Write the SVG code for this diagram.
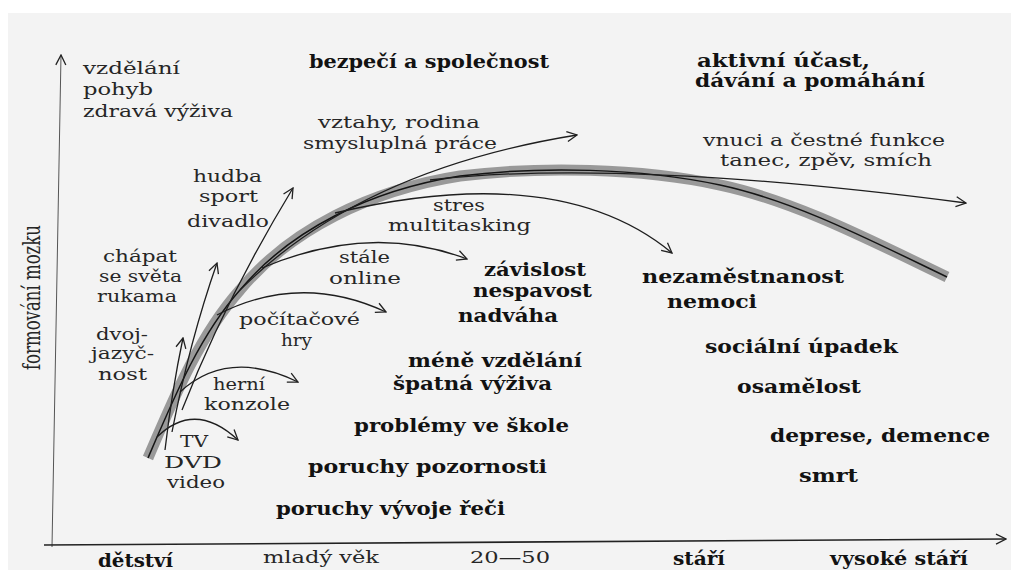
<svg xmlns="http://www.w3.org/2000/svg" width="1011" height="570" viewBox="0 0 1011 570">
<style>
text{font-family:"DejaVu Serif","Liberation Serif",serif;fill:#1e1e1e}
.r{font-size:17px;font-weight:normal;fill:#262626}
.b{font-size:18px;font-weight:bold;fill:#121212}
.ln{fill:none;stroke:#1e1e1e;stroke-width:1.3}
</style>
<defs>
<marker id="ah" viewBox="0 0 12 12" markerWidth="12" markerHeight="12" refX="11" refY="6" orient="auto" markerUnits="userSpaceOnUse">
<path d="M1,1 L11,6 L1,11" fill="none" stroke="#222" stroke-width="1.3"/>
</marker>
</defs>
<rect x="0" y="0" width="1011" height="570" fill="#ffffff"/>
<rect x="8" y="13" width="1003" height="557" fill="#f3f3f3"/>

<g id="axes">
<line x1="52" y1="547" x2="61" y2="55" stroke="#555" stroke-width="1" marker-end="url(#ah)"/>
<line x1="44" y1="545" x2="1006" y2="539" stroke="#222" stroke-width="1.6" marker-end="url(#ah)"/>
<text class="r" transform="translate(40 370) scale(1.4 1) rotate(-90)" textLength="145" lengthAdjust="spacingAndGlyphs" font-size="16">formování mozku</text>
</g>

<g id="main-curve">
<path d="M148,458 C175,395 200,335 240,290 C290,230 370,190 460,176 C540,166 640,168 720,185 C795,201 870,240 947,277" fill="none" stroke="#999" stroke-width="11" stroke-linecap="butt"/>
<path d="M148,458 C175,395 200,335 240,290 C290,230 370,190 460,176 C540,166 640,168 720,185 C795,201 870,240 947,277" fill="none" stroke="#151515" stroke-width="1.5"/>
</g>

<g id="connectors">
<path class="ln" d="M157,437 Q195,400 238,440" marker-end="url(#ah)"/>
<path class="ln" d="M180,392 Q228,348 298,382" marker-end="url(#ah)"/>
<path class="ln" d="M217,315 Q300,272 386,312" marker-end="url(#ah)"/>
<path class="ln" d="M262,268 Q370,222 467,259" marker-end="url(#ah)"/>
<path class="ln" d="M335,213 Q560,160 672,253" marker-end="url(#ah)"/>
<path class="ln" d="M240,290 Q360,170 577,135" marker-end="url(#ah)"/>
<path class="ln" d="M430,180 Q620,158 966,203" marker-end="url(#ah)"/>
<path class="ln" d="M182,410 Q225,300 293,188" marker-end="url(#ah)"/>
<path class="ln" d="M172,432 Q190,340 217,263" marker-end="url(#ah)"/>
<path class="ln" d="M165,450 Q172,390 183,338" marker-end="url(#ah)"/>
</g>

<g id="n-vzdelani">
<text class="r" x="83" y="74" textLength="97" lengthAdjust="spacingAndGlyphs">vzdělání</text>
<text class="r" x="83" y="95" textLength="70" lengthAdjust="spacingAndGlyphs">pohyb</text>
<text class="r" x="83" y="117" textLength="150" lengthAdjust="spacingAndGlyphs">zdravá výživa</text>
</g>
<g id="n-bezpeci">
<text class="b" x="309" y="68" textLength="240" lengthAdjust="spacingAndGlyphs">bezpečí a společnost</text>
</g>
<g id="n-aktivni">
<text class="b" x="697" y="67" textLength="173" lengthAdjust="spacingAndGlyphs">aktivní účast,</text>
<text class="b" x="695" y="87" textLength="230" lengthAdjust="spacingAndGlyphs">dávání a pomáhání</text>
</g>
<g id="n-vztahy">
<text class="r" x="318" y="128" textLength="162" lengthAdjust="spacingAndGlyphs">vztahy, rodina</text>
<text class="r" x="303" y="149" textLength="194" lengthAdjust="spacingAndGlyphs">smysluplná práce</text>
</g>
<g id="n-vnuci">
<text class="r" x="703" y="146" textLength="242" lengthAdjust="spacingAndGlyphs">vnuci a čestné funkce</text>
<text class="r" x="720" y="166" textLength="212" lengthAdjust="spacingAndGlyphs">tanec, zpěv, smích</text>
</g>
<g id="n-hudba">
<text class="r" x="193" y="182" textLength="69" lengthAdjust="spacingAndGlyphs">hudba</text>
<text class="r" x="199" y="202" textLength="59" lengthAdjust="spacingAndGlyphs">sport</text>
<text class="r" x="187" y="227" textLength="82" lengthAdjust="spacingAndGlyphs">divadlo</text>
</g>
<g id="n-stres">
<text class="r" x="433" y="211" textLength="52" lengthAdjust="spacingAndGlyphs">stres</text>
<text class="r" x="388" y="231" textLength="143" lengthAdjust="spacingAndGlyphs">multitasking</text>
</g>
<g id="n-chapat">
<text class="r" x="103" y="262" textLength="74" lengthAdjust="spacingAndGlyphs">chápat</text>
<text class="r" x="99" y="282" textLength="83" lengthAdjust="spacingAndGlyphs">se světa</text>
<text class="r" x="97" y="302" textLength="80" lengthAdjust="spacingAndGlyphs">rukama</text>
</g>
<g id="n-stale">
<text class="r" x="339" y="263" textLength="51" lengthAdjust="spacingAndGlyphs">stále</text>
<text class="r" x="329" y="284" textLength="72" lengthAdjust="spacingAndGlyphs">online</text>
</g>
<g id="n-zavislost">
<text class="b" x="484" y="276" textLength="102" lengthAdjust="spacingAndGlyphs">závislost</text>
<text class="b" x="473" y="297" textLength="119" lengthAdjust="spacingAndGlyphs">nespavost</text>
<text class="b" x="458" y="322" textLength="100" lengthAdjust="spacingAndGlyphs">nadváha</text>
</g>
<g id="n-nezamestnanost">
<text class="b" x="642" y="283" textLength="202" lengthAdjust="spacingAndGlyphs">nezaměstnanost</text>
<text class="b" x="667" y="308" textLength="90" lengthAdjust="spacingAndGlyphs">nemoci</text>
</g>
<g id="n-pocitacove">
<text class="r" x="239" y="325" textLength="121" lengthAdjust="spacingAndGlyphs">počítačové</text>
<text class="r" x="281" y="346" textLength="31" lengthAdjust="spacingAndGlyphs">hry</text>
</g>
<g id="n-dvoj">
<text class="r" x="96" y="340" textLength="52" lengthAdjust="spacingAndGlyphs">dvoj-</text>
<text class="r" x="91" y="359" textLength="63" lengthAdjust="spacingAndGlyphs">jazyč-</text>
<text class="r" x="98" y="380" textLength="49" lengthAdjust="spacingAndGlyphs">nost</text>
</g>
<g id="n-herni">
<text class="r" x="213" y="390" textLength="52" lengthAdjust="spacingAndGlyphs">herní</text>
<text class="r" x="204" y="410" textLength="86" lengthAdjust="spacingAndGlyphs">konzole</text>
</g>
<g id="n-tv">
<text class="r" x="180" y="447" textLength="28" lengthAdjust="spacingAndGlyphs">TV</text>
<text class="r" x="164" y="468" textLength="58" lengthAdjust="spacingAndGlyphs">DVD</text>
<text class="r" x="167" y="488" textLength="58" lengthAdjust="spacingAndGlyphs">video</text>
</g>
<g id="n-mene">
<text class="b" x="408" y="367" textLength="174" lengthAdjust="spacingAndGlyphs">méně vzdělání</text>
<text class="b" x="393" y="390" textLength="159" lengthAdjust="spacingAndGlyphs">špatná výživa</text>
</g>
<g id="n-problemy"><text class="b" x="354" y="432" textLength="215" lengthAdjust="spacingAndGlyphs">problémy ve škole</text></g>
<g id="n-pozornost"><text class="b" x="308" y="473" textLength="239" lengthAdjust="spacingAndGlyphs">poruchy pozornosti</text></g>
<g id="n-rec"><text class="b" x="276" y="515" textLength="229" lengthAdjust="spacingAndGlyphs">poruchy vývoje řeči</text></g>
<g id="n-socialni"><text class="b" x="705" y="353" textLength="193" lengthAdjust="spacingAndGlyphs">sociální úpadek</text></g>
<g id="n-osamelost"><text class="b" x="737" y="393" textLength="124" lengthAdjust="spacingAndGlyphs">osamělost</text></g>
<g id="n-deprese"><text class="b" x="770" y="442" textLength="220" lengthAdjust="spacingAndGlyphs">deprese, demence</text></g>
<g id="n-smrt"><text class="b" x="799" y="482" textLength="59" lengthAdjust="spacingAndGlyphs">smrt</text></g>

<g id="x-labels">
<text class="b" x="98" y="567" textLength="75" lengthAdjust="spacingAndGlyphs">dětství</text>
<text class="r" x="263" y="563" textLength="116" lengthAdjust="spacingAndGlyphs" font-size="18">mladý věk</text>
<text class="r" x="470" y="563" textLength="80" lengthAdjust="spacingAndGlyphs" font-size="18">20—50</text>
<text class="b" x="673" y="565" textLength="52" lengthAdjust="spacingAndGlyphs">stáří</text>
<text class="b" x="830" y="565" textLength="138" lengthAdjust="spacingAndGlyphs">vysoké stáří</text>
</g>
</svg>
